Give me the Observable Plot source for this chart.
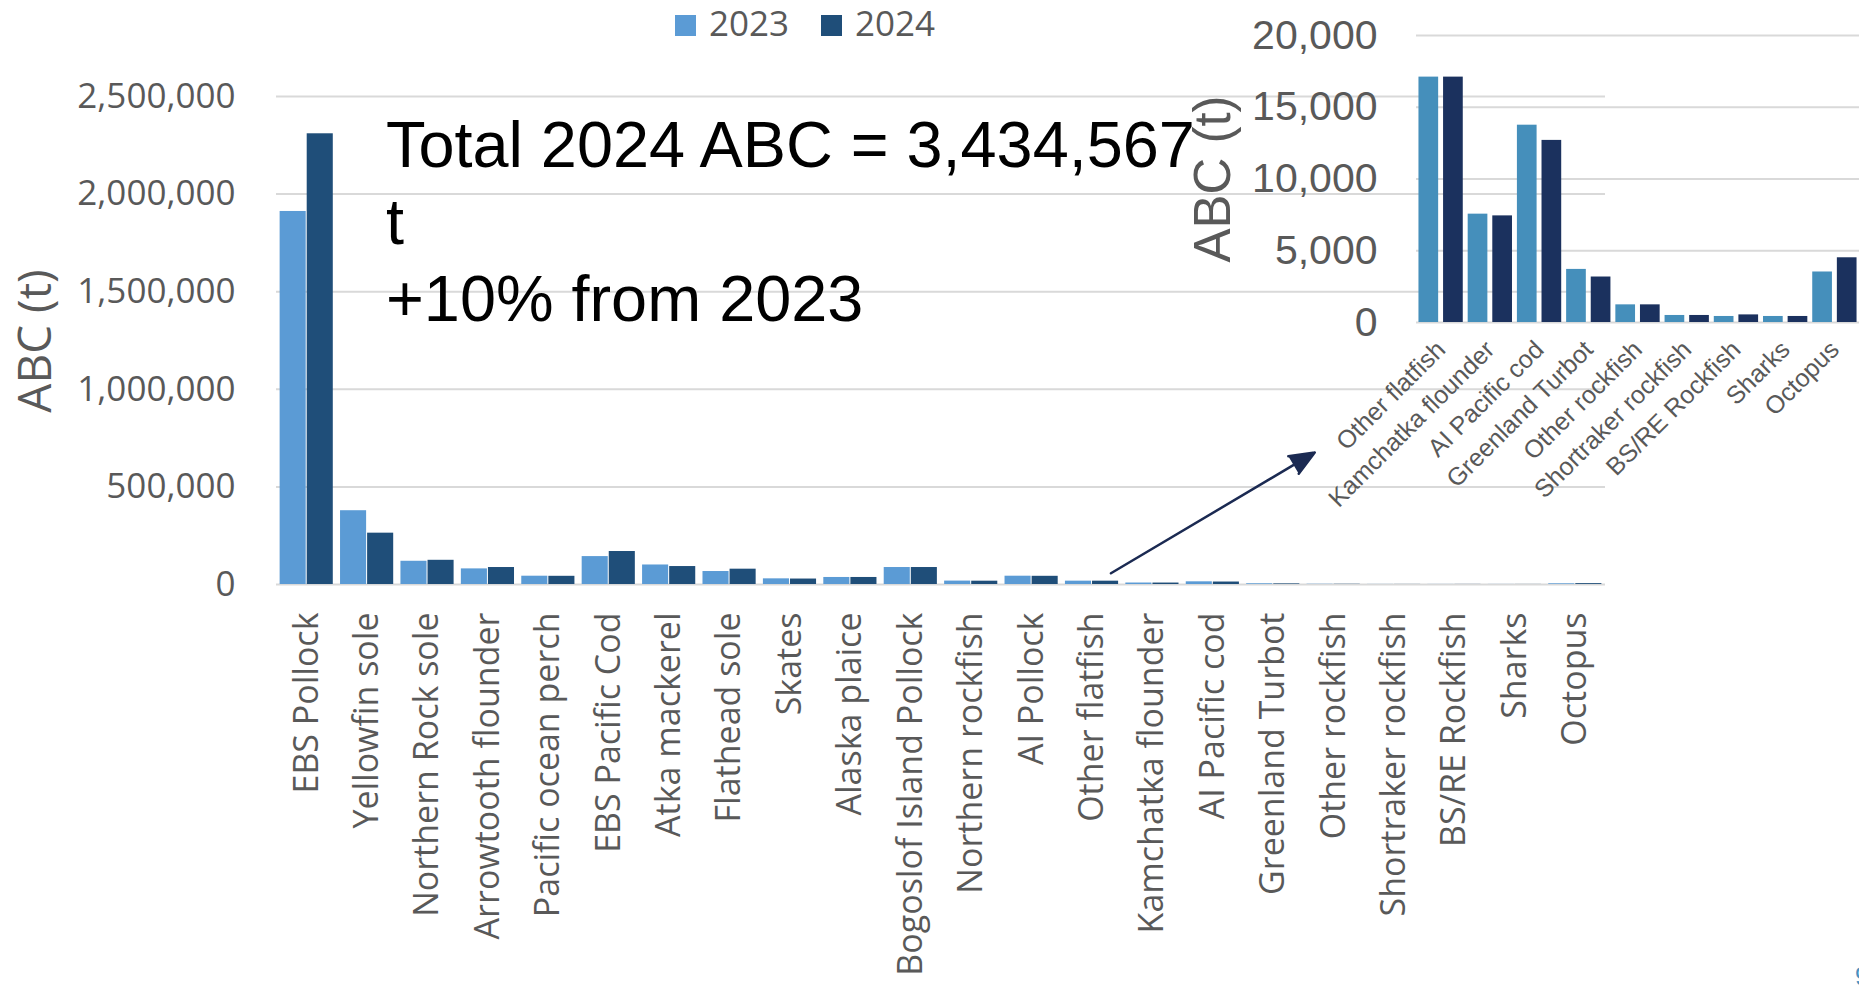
<!DOCTYPE html>
<html><head><meta charset="utf-8">
<script src="https://cdn.jsdelivr.net/npm/d3@7"></script>
<script src="https://cdn.jsdelivr.net/npm/@observablehq/plot@0.6"></script>
<style>
html,body{margin:0;padding:0;background:#fff;overflow:hidden;width:1859px;height:1004px;}
#wrap{position:relative;width:1859px;height:1004px;overflow:hidden;}
.abs{position:absolute;white-space:nowrap;}
</style></head><body><div id="wrap"></div>
<script>
// ---- data ----
const species = ["EBS Pollock","Yellowfin sole","Northern Rock sole","Arrowtooth flounder","Pacific ocean perch","EBS Pacific Cod","Atka mackerel","Flathead sole","Skates","Alaska plaice","Bogoslof Island Pollock","Northern rockfish","AI Pollock","Other flatfish","Kamchatka flounder","AI Pacific cod","Greenland Turbot","Other rockfish","Shortraker rockfish","BS/RE Rockfish","Sharks","Octopus"];
const abc2023 = [1911000, 378000, 119000, 80000, 42500, 143000, 100000, 66500, 29000, 36000, 87000, 17500, 42500, 17100, 7550, 13750, 3700, 1230, 490, 420, 420, 3520];
const abc2024 = [2309000, 263000, 124000, 87000, 42000, 169000, 92000, 78500, 28000, 36000, 87000, 17000, 42000, 17100, 7430, 12690, 3170, 1230, 490, 530, 420, 4510];
const years = ["2023", "2024"];
const mainTicks = [0, 500000, 1000000, 1500000, 2000000, 2500000];
const insetStartIndex = 13;
const insetTicks = [0, 5000, 10000, 15000, 20000];
const yLabel = "ABC (t)";
const annotationLine1 = "Total 2024 ABC = 3,434,567 t";
const annotationLine2 = "+10% from 2023";
const arrowData = [{from: "Other flatfish", to: "Other rockfish", y1: 0, y2: 734000}];
const pageNumber = "9";

// ---- colours ----
const mainColors = ["#5B9BD5", "#1F4E79"];
const insetColors = ["#458FBB", "#1B315E"];
const arrowColor = "#1B2A52";
const gray = "#595959";
const grid = "#d9d9d9";

const rows = species.map((s, i) => ({species: s, v2023: abc2023[i], v2024: abc2024[i]}));
const insetRows = rows.slice(insetStartIndex);

const wrap = document.getElementById("wrap");

// ---- main chart ----
const W = 1859, H = 1004;
const mL = 276, mR = 254, mT = 96, mB = 420;
const pIn = 0.12, pOut = 0.06;
const step = (W - mL - mR) / (species.length - pIn + 2 * pOut);
const bw = step * (1 - pIn);

const main = Plot.plot({
  width: W, height: H,
  marginLeft: mL, marginRight: mR, marginTop: mT, marginBottom: mB,
  style: {fontFamily: "Open Sans", background: "transparent", color: gray},
  x: {domain: species, paddingInner: pIn, paddingOuter: pOut, round: false},
  y: {domain: [0, 2500000]},
  marks: [
    Plot.gridY(mainTicks, {stroke: grid, strokeOpacity: 1, strokeWidth: 2}),
    Plot.barY(rows, {x: "species", y: "v2023", fill: mainColors[0], insetRight: bw / 2 + 0.5}),
    Plot.barY(rows, {x: "species", y: "v2024", fill: mainColors[1], insetLeft: bw / 2 + 0.5}),
    Plot.axisY({ticks: mainTicks, tickFormat: d3.format(","), tickSize: 0, tickPadding: 41, fontSize: 35, color: gray, label: null}),
    Plot.axisX({tickRotate: -90, tickSize: 0, tickPadding: 28, fontSize: 34, color: gray, label: null}),
    Plot.arrow(arrowData, {x1: "from", x2: "to", y1: "y1", y2: "y2", stroke: arrowColor, fill: arrowColor, strokeWidth: 2.5, strokeLinejoin: "miter", insetStart: 22, insetEnd: 22, headLength: 16, headAngle: 45})
  ]
});
main.style.position = "absolute"; main.style.left = "0px"; main.style.top = "0px";
wrap.appendChild(main);

// ---- inset chart ----
const iLeft = 1180, iW = W - iLeft, iH = 560;
const imL = 236, imT = 35, imB = iH - 322;
const ibw = (iW - imL) / insetRows.length;
const half = ibw / 2, pad = half * 0.1;

const inset = Plot.plot({
  width: iW, height: iH,
  marginLeft: imL, marginRight: 0, marginTop: imT, marginBottom: imB,
  style: {fontFamily: "Liberation Sans, Arial", background: "transparent", color: gray},
  x: {domain: insetRows.map(d => d.species), padding: 0, round: false},
  y: {domain: [0, 20000]},
  marks: [
    Plot.gridY(insetTicks, {stroke: grid, strokeOpacity: 1, strokeWidth: 2}),
    Plot.barY(insetRows, {x: "species", y: "v2023", fill: insetColors[0], insetLeft: pad, insetRight: half + pad}),
    Plot.barY(insetRows, {x: "species", y: "v2024", fill: insetColors[1], insetLeft: half + pad, insetRight: pad}),
    Plot.axisY({ticks: insetTicks, tickFormat: d3.format(","), tickSize: 0, tickPadding: 39, fontSize: 41, color: gray, label: null}),
    Plot.axisX({tickRotate: -45, tickSize: 0, tickPadding: 23, fontSize: 25, color: gray, label: null})
  ]
});
inset.style.position = "absolute"; inset.style.left = iLeft + "px"; inset.style.top = "0px";
wrap.appendChild(inset);

// ---- text overlays ----
function addDiv(html, css) {
  const d = document.createElement("div");
  d.className = "abs";
  d.innerHTML = html;
  Object.assign(d.style, css);
  wrap.appendChild(d);
  return d;
}
// main y label
addDiv(yLabel, {left: "33px", top: "341px", transform: "translate(-50%,-50%) rotate(-90deg)", font: "46px 'Open Sans'", color: gray});
// inset y label
addDiv(yLabel, {left: "1212px", top: "179px", transform: "translate(-50%,-50%) rotate(-90deg)", font: "51px 'Liberation Sans'", color: gray});
// legend
const legendX = [675, 821];
years.forEach((yr, i) => {
  addDiv("", {left: legendX[i] + "px", top: "15px", width: "21px", height: "21px", background: mainColors[i]});
  addDiv(yr, {left: (legendX[i] + 34) + "px", top: "-1px", font: "35px 'Open Sans'", color: gray, lineHeight: "48px"});
});
// annotation
addDiv(annotationLine1 + "<br>" + annotationLine2, {left: "386px", top: "106px", width: "838px", whiteSpace: "normal", font: "64.8px 'Liberation Sans'", lineHeight: "77px", color: "#000"});
// page number (partly off the right edge, as in the slide)
addDiv(pageNumber, {left: "1855px", top: "962px", font: "25px 'Liberation Sans'", color: "#4A90C0"});
</script>
</body></html>
